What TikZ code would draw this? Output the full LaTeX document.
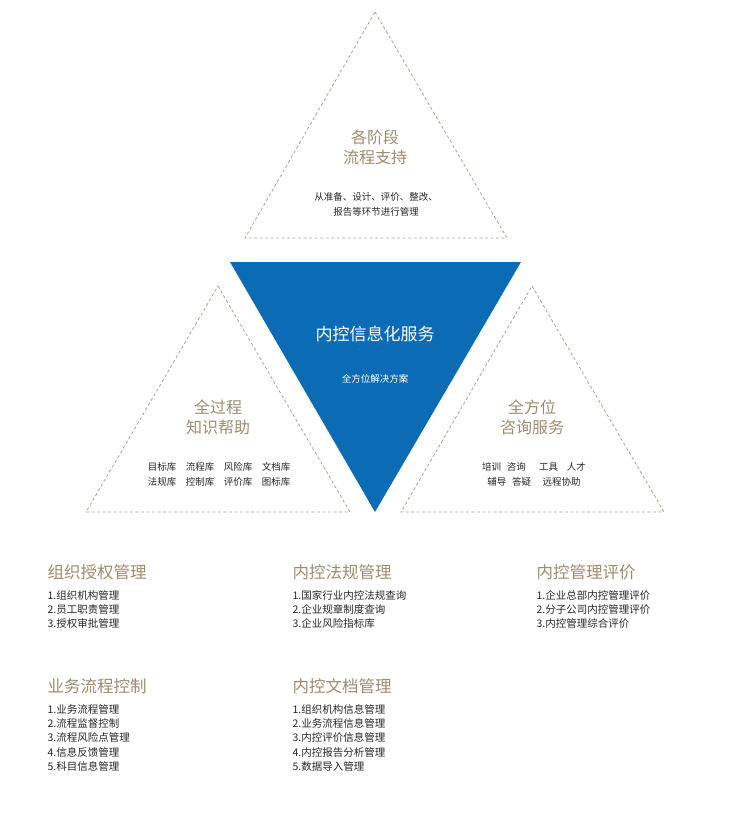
\documentclass[tikz,border=0pt]{standalone}
\usepackage{fontspec}
\newfontfamily\cjk{Noto Sans CJK SC}
\begin{document}
\begin{tikzpicture}[x=1pt,y=-1pt,
  tri/.style={draw=gold!80!white,dash pattern=on 3pt off 2.5pt,line width=0.8pt},
  title/.style={text=gold,font=\cjk\fontsize{16}{20}\selectfont,align=center},
  small/.style={text=black!85,font=\cjk\fontsize{9.5}{15}\selectfont,align=center},
  head/.style={text=gold,font=\cjk\fontsize{16.5}{20}\selectfont,anchor=west},
  item/.style={text=black!85,font=\cjk\fontsize{10.5}{14.25}\selectfont,anchor=north west,align=left}]
\definecolor{gold}{HTML}{9C8C6E}
\definecolor{blue}{HTML}{0B6CB5}
\useasboundingbox (0,0) rectangle (750,816);
\coordinate (t1) at (375,12); \coordinate (t2) at (507,238); \coordinate (t3) at (245,238);
\draw[tri] (t1)--(t2)--(t3)--cycle;
\coordinate (l1) at (218,286); \coordinate (l2) at (350,512); \coordinate (l3) at (86,512);
\draw[tri] (l1)--(l2)--(l3)--cycle;
\coordinate (r1) at (532,286); \coordinate (r2) at (664,512); \coordinate (r3) at (401,512);
\draw[tri] (r1)--(r2)--(r3)--cycle;
\coordinate (b1) at (230,262); \coordinate (b2) at (521,262); \coordinate (b3) at (375,512);
\fill[blue] (b1)--(b2)--(b3)--cycle;
\node[title] (tt) at (375,147) {各阶段\\流程支持};
\node[small] (ts) at (376,204) {从准备、设计、评价、整改、\\报告等环节进行管理};
\node[text=white,font=\cjk\fontsize{17}{20}\selectfont] (bt) at (375,334) {内控信息化服务};
\node[text=white,font=\cjk\fontsize{9.5}{12}\selectfont] (bs) at (375,379) {全方位解决方案};
\node[title] (lt) at (218,417) {全过程\\知识帮助};
\node[small] (ls) at (219,474) {目标库\hspace{1em}流程库\hspace{1em}风险库\hspace{1em}文档库\\法规库\hspace{1em}控制库\hspace{1em}评价库\hspace{1em}图标库};
\node[title] (rt) at (532,417) {全方位\\咨询服务};
\node[small] (rs) at (534,474) {培训\hspace{0.6em}咨询\hspace{1.4em}工具\hspace{0.9em}人才\\辅导\hspace{0.6em}答疑\hspace{1.2em}远程协助};
\node[head] (h1) at (44,572) {组织授权管理};
\node[item] (i1) at (44,587) {1.组织机构管理\\2.员工职责管理\\3.授权审批管理};
\node[head] (h2) at (289,572) {内控法规管理};
\node[item] (i2) at (289,587) {1.国家行业内控法规查询\\2.企业规章制度查询\\3.企业风险指标库};
\node[head] (h3) at (533,572) {内控管理评价};
\node[item] (i3) at (533,587) {1.企业总部内控管理评价\\2.分子公司内控管理评价\\3.内控管理综合评价};
\node[head] (h4) at (44,686) {业务流程控制};
\node[item] (i4) at (44,701) {1.业务流程管理\\2.流程监督控制\\3.流程风险点管理\\4.信息反馈管理\\5.科目信息管理};
\node[head] (h5) at (289,686) {内控文档管理};
\node[item] (i5) at (289,701) {1.组织机构信息管理\\2.业务流程信息管理\\3.内控评价信息管理\\4.内控报告分析管理\\5.数据导入管理};
\end{tikzpicture}
\end{document}
